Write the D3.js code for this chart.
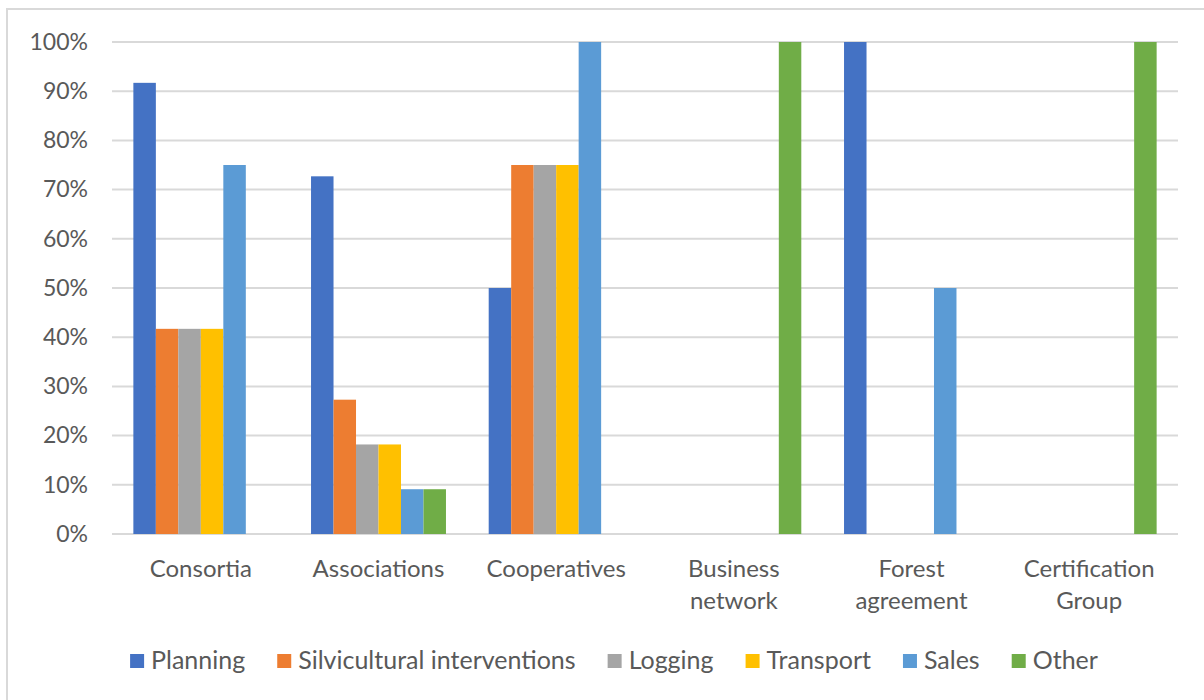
<!DOCTYPE html>
<html>
<head>
<meta charset="utf-8">
<script src="https://cdn.jsdelivr.net/npm/d3@7"></script>
<style>
  body { margin: 0; background: #fff; }
  text { font-family: Lato, "Liberation Sans", sans-serif; fill: #595959; }
</style>
</head>
<body>
<script>
// data
const categories = ["Consortia", "Associations", "Cooperatives", "Business network", "Forest agreement", "Certification Group"];
const categoryLines = [["Consortia"], ["Associations"], ["Cooperatives"], ["Business", "network"], ["Forest", "agreement"], ["Certification", "Group"]];
const series = ["Planning", "Silvicultural interventions", "Logging", "Transport", "Sales", "Other"];
const colors = ["#4472C4", "#ED7D31", "#A5A5A5", "#FFC000", "#5B9BD5", "#70AD47"];

// one array per series, in the category order
const planning     = [0.917, 0.727, 0.50, 0, 1.00, 0];
const silvicultural = [0.417, 0.273, 0.75, 0, 0, 0];
const logging      = [0.417, 0.182, 0.75, 0, 0, 0];
const transport    = [0.417, 0.182, 0.75, 0, 0, 0];
const sales        = [0.75, 0.091, 1.00, 0, 0.50, 0];
const other        = [0, 0.091, 0, 1.00, 0, 1.00];
const seriesValues = [planning, silvicultural, logging, transport, sales, other];

const yTicks = [0, 0.1, 0.2, 0.3, 0.4, 0.5, 0.6, 0.7, 0.8, 0.9, 1.0];

const width = 1204, height = 700;
const plot = { left: 112, right: 1178, top: 42, bottom: 534 };

const svg = d3.select("body").append("svg")
  .attr("width", width)
  .attr("height", height);

// chart frame
svg.append("rect")
  .attr("x", 7).attr("y", 9)
  .attr("width", 1220).attr("height", 720)
  .attr("fill", "#fff")
  .attr("stroke", "#D9D9D9")
  .attr("stroke-width", 2);

// scales
const x0 = d3.scaleBand().domain(categories).range([plot.left, plot.right]);
const x1 = d3.scaleBand().domain(series).range([0, x0.bandwidth()]).paddingOuter(0.95);
const y = d3.scaleLinear().domain([0, 1]).range([plot.bottom, plot.top]);

// gridlines
svg.append("g").selectAll("line")
  .data(yTicks)
  .join("line")
  .attr("x1", plot.left).attr("x2", plot.right)
  .attr("y1", d => y(d)).attr("y2", d => y(d))
  .attr("stroke", "#D9D9D9")
  .attr("stroke-width", 2);

// y axis labels
const yAxis = d3.axisLeft(y).tickValues(yTicks).tickFormat(d3.format(".0%")).tickSize(0).tickPadding(0);
const yg = svg.append("g")
  .attr("transform", `translate(88,0)`)
  .call(yAxis);
yg.select(".domain").remove();
yg.selectAll("text")
  .attr("font-size", 23)
  .attr("font-family", "Lato")
  .attr("fill", "#595959");

// bars
const groups = svg.append("g").selectAll("g")
  .data(categories)
  .join("g")
  .attr("transform", d => `translate(${x0(d)},0)`);

groups.selectAll("rect")
  .data((c, ci) => series.map((s, si) => ({ s, si, v: seriesValues[si][ci] })))
  .join("rect")
  .attr("x", d => x1(d.s))
  .attr("width", x1.bandwidth())
  .attr("y", d => y(d.v))
  .attr("height", d => y(0) - y(d.v))
  .attr("fill", d => colors[d.si]);

// category labels
const catLabels = svg.append("g").selectAll("text")
  .data(categoryLines)
  .join("text")
  .attr("text-anchor", "middle")
  .attr("font-size", 24)
  .attr("x", (d, i) => x0(categories[i]) + x0.bandwidth() / 2);
catLabels.selectAll("tspan")
  .data(d => d)
  .join("tspan")
  .attr("x", function() { return this.parentNode.getAttribute("x"); })
  .attr("y", (d, i) => 577 + i * 32)
  .text(d => d);

// legend
const legend = svg.append("g");
const items = legend.selectAll("g")
  .data(series)
  .join("g");
items.append("rect")
  .attr("width", 14).attr("height", 14)
  .attr("y", 654)
  .attr("fill", (d, i) => colors[i]);
items.append("text")
  .attr("x", 21)
  .attr("y", 669)
  .attr("font-size", 25)
  .text(d => d);

let offset = 0;
const positions = [];
items.each(function() {
  positions.push(offset);
  const w = d3.select(this).select("text").node().getComputedTextLength();
  offset += 21 + w + 32;
});
const total = offset - 32;
const startX = 614 - total / 2;
items.attr("transform", (d, i) => `translate(${startX + positions[i]},0)`);
</script>
</body>
</html>
